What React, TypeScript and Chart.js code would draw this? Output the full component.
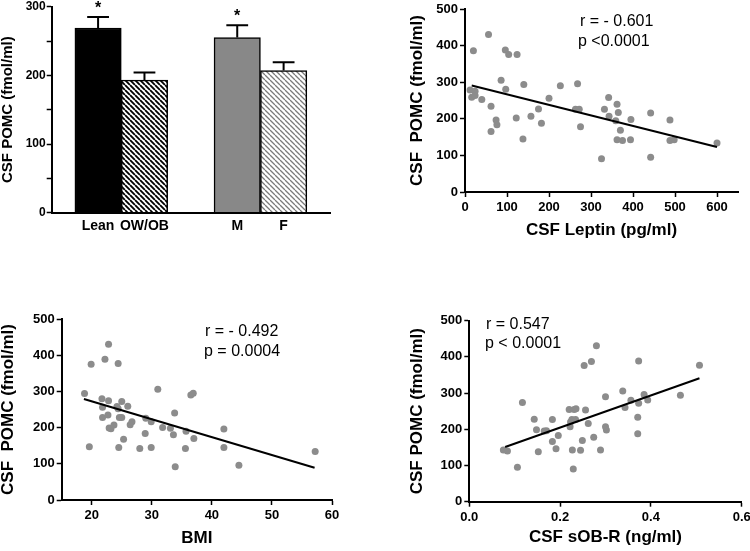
import React, { useEffect, useRef } from 'react';
import { Chart, registerables } from 'chart.js';

Chart.register(...registerables);

const FONT = '"Liberation Sans", Arial, Helvetica, sans-serif';
Chart.defaults.font.family = FONT;
Chart.defaults.color = '#000';

// ---------- Panel A: bar chart ----------
const barLabels = ['Lean', 'OW/OB', 'M', 'F'];
const barPositions = [1, 2, 4, 5];
const barMeans = [269, 193, 255, 207];
const barErrors = [16, 11, 18, 12];
const barMarks = ['*', '', '*', ''];
const barYTicks = [0, 50, 100, 150, 200, 250, 300];

// ---------- Panel B: CSF leptin ----------
const leptinX = [56, 20, 96, 104, 124, 86, 140, 97, 12, 24, 16, 24, 40, 62, 74, 76, 62, 122, 157, 138, 175, 182, 200, 227, 268, 263, 272, 275, 325, 332, 342, 343, 362, 359, 365, 370, 362, 375, 395, 394, 442, 442, 488, 488, 498, 600];
const leptinPomc = [430, 386, 388, 376, 376, 305, 294, 281, 279, 275, 259, 264, 253, 234, 197, 184, 165, 202, 207, 145, 227, 188, 256, 290, 296, 226, 226, 178, 91, 226, 258, 207, 240, 195, 217, 169, 143, 141, 198, 143, 216, 95, 197, 141, 143, 134];
const leptinFitX = [16, 600];
const leptinFitY = [291, 123];
const leptinXTicks = [0, 100, 200, 300, 400, 500, 600];
const leptinYTicks = [0, 50, 100, 150, 200, 250, 300, 350, 400, 450, 500];
const leptinStats = ['r = - 0.601', 'p <0.0001'];

// ---------- Panel C: BMI ----------
const bmiX = [18.8, 19.6, 19.9, 22.8, 22.2, 24.4, 21.7, 21.8, 22.8, 21.8, 22.7, 22.9, 23.2, 23.7, 24.2, 24.4, 24.6, 25.0, 25.0, 26.0, 26.4, 26.7, 25.3, 24.5, 28.0, 29.0, 28.9, 29.9, 29.9, 31.0, 31.8, 33.1, 33.6, 33.8, 35.7, 35.6, 33.9, 37.0, 36.5, 36.9, 42.0, 42.0, 44.5, 57.2];
const bmiPomc = [294, 147, 375, 430, 389, 377, 280, 256, 274, 228, 235, 199, 197, 207, 258, 252, 228, 272, 228, 259, 208, 216, 168, 145, 142, 226, 184, 145, 216, 306, 200, 198, 180, 240, 190, 142, 92, 170, 290, 295, 196, 145, 96, 134];
const bmiFitX = [18.7, 57.1];
const bmiFitY = [279, 89];
const bmiXTicks = [20, 30, 40, 50, 60];
const bmiYTicks = [0, 100, 200, 300, 400, 500];
const bmiStats = ['r = - 0.492', 'p = 0.0004'];

// ---------- Panel D: CSF sOB-R ----------
const sobrX = [0.075, 0.084, 0.106, 0.117, 0.143, 0.148, 0.152, 0.165, 0.170, 0.183, 0.183, 0.191, 0.196, 0.220, 0.222, 0.223, 0.226, 0.227, 0.229, 0.231, 0.234, 0.235, 0.245, 0.249, 0.253, 0.256, 0.262, 0.269, 0.274, 0.280, 0.289, 0.300, 0.300, 0.302, 0.338, 0.343, 0.356, 0.371, 0.371, 0.373, 0.373, 0.385, 0.393, 0.465, 0.507];
const sobrPomc = [143, 140, 95, 274, 228, 199, 138, 195, 196, 227, 166, 146, 183, 255, 207, 220, 227, 143, 90, 255, 227, 257, 142, 169, 376, 253, 216, 387, 178, 431, 143, 290, 207, 198, 306, 260, 280, 233, 188, 272, 389, 296, 281, 294, 377];
const sobrFitX = [0.079, 0.507];
const sobrFitY = [151, 341];
const sobrXTicks = [0, 0.2, 0.4, 0.6];
const sobrYTicks = [0, 100, 200, 300, 400, 500];
const sobrStats = ['r = 0.547', 'p < 0.0001'];

// ---------- helpers ----------
const notesPlugin = {
  id: 'notes',
  afterDraw(chart: any, _args: any, opts: any) {
    if (!opts || !opts.items) return;
    const ctx = chart.ctx;
    ctx.save();
    ctx.fillStyle = '#000';
    ctx.font = `${opts.size || 16}px ${FONT}`;
    ctx.textAlign = 'left';
    ctx.textBaseline = 'middle';
    opts.items.forEach((it: any) => ctx.fillText(it.text, it.x, it.y));
    ctx.restore();
  },
};

const errorBarPlugin = {
  id: 'errorBars',
  afterDatasetsDraw(chart: any, _args: any, opts: any) {
    if (!opts || !opts.errors) return;
    const meta = chart.getDatasetMeta(0);
    const yScale = chart.scales.y;
    const ctx = chart.ctx;
    ctx.save();
    ctx.strokeStyle = '#000';
    ctx.lineWidth = 2;
    meta.data.forEach((bar: any, i: number) => {
      const top = yScale.getPixelForValue(opts.means[i] + opts.errors[i]);
      const half = (bar.width * 0.47) / 2;
      ctx.beginPath();
      ctx.moveTo(bar.x, bar.y);
      ctx.lineTo(bar.x, top);
      ctx.moveTo(bar.x - half, top);
      ctx.lineTo(bar.x + half, top);
      ctx.stroke();
      if (opts.marks[i]) {
        ctx.fillStyle = '#000';
        ctx.font = `bold 16px ${FONT}`;
        ctx.textAlign = 'center';
        ctx.textBaseline = 'alphabetic';
        ctx.fillText(opts.marks[i], bar.x, top - 4);
      }
    });
    ctx.restore();
  },
};

function makeHatch(color: string, size: number, lw: number) {
  const c = document.createElement('canvas');
  c.width = size;
  c.height = size;
  const g = c.getContext('2d')!;
  g.fillStyle = '#fff';
  g.fillRect(0, 0, size, size);
  g.strokeStyle = color;
  g.lineWidth = lw;
  g.beginPath();
  for (const o of [-size, 0, size]) {
    g.moveTo(o, 0);
    g.lineTo(o + size, size);
  }
  g.stroke();
  return g.createPattern(c, 'repeat')!;
}

function fixedTicks(values: number[]) {
  return (s: any) => {
    s.ticks = values.map((v) => ({ value: v }));
  };
}

function yAxisWidth(w: number) {
  return (s: any) => {
    s.width = w;
    s.paddingTop = 0;
    s.paddingBottom = 0;
  };
}
function xAxisHeight(h: number) {
  return (s: any) => {
    s.height = h;
    s.paddingLeft = 0;
    s.paddingRight = 0;
  };
}

function barConfig(): any {
  const colors = ['#000000', makeHatch('#000000', 5, 1.8), '#888888', makeHatch('#7a7a7a', 5, 1.3)];
  return {
    type: 'bar',
    data: {
      datasets: [
        {
          data: barPositions.map((x, i) => ({ x, y: barMeans[i] })),
          backgroundColor: colors,
          borderColor: '#000',
          borderWidth: 1.5,
          barPercentage: 1,
          categoryPercentage: 1,
        },
      ],
    },
    plugins: [errorBarPlugin],
    options: {
      animation: false,
      responsive: false,
      devicePixelRatio: 1,
      events: [],
      layout: { padding: { left: 0.5, top: 6.7, right: 40, bottom: 57.3 } },
      plugins: {
        legend: { display: false },
        tooltip: { enabled: false },
        errorBars: { means: barMeans, errors: barErrors, marks: barMarks },
      },
      scales: {
        x: {
          type: 'linear',
          min: 0,
          max: 6,
          offset: false,
          afterBuildTicks: fixedTicks(barPositions),
          afterFit: xAxisHeight(30),
          ticks: {
            callback: (_v: any, i: number) => barLabels[i],
            font: { size: 14, weight: 'bold' },
            color: '#000',
            padding: 5,
            autoSkip: false,
            maxRotation: 0,
          },
          grid: { display: true, offset: false, drawOnChartArea: false, drawTicks: false },
          border: { display: true, color: '#000', width: 2, z: 1 },
        },
        y: {
          min: 0,
          max: 300,
          afterBuildTicks: fixedTicks(barYTicks),
          afterFit: yAxisWidth(51.2),
          ticks: {
            callback: (v: number) => (v % 100 === 0 ? String(v) : ''),
            font: { size: 12, weight: 'bold' },
            color: '#000',
            padding: 1,
          },
          grid: { display: true, drawOnChartArea: false, color: '#000', tickLength: 5, tickWidth: 1.5 },
          border: { display: true, color: '#000', width: 2 },
          title: {
            display: true,
            text: 'CSF POMC (fmol/ml)',
            font: { size: 15, weight: 'bold', lineHeight: 1 },
            color: '#000',
            padding: 0,
          },
        },
      },
    },
  };
}

interface ScatterSpec {
  xs: number[];
  ys: number[];
  fitX: number[];
  fitY: number[];
  xMin: number;
  xMax: number;
  xTicks: number[];
  yTicks: number[];
  xFmt: (v: number) => string;
  yFmt: (v: number) => string;
  xTitle: string;
  yTitle: string;
  pad: { left: number; top: number; right: number; bottom: number };
  yw: number;
  xh: number;
  notes: { text: string; x: number; y: number }[];
}

function scatterConfig(p: ScatterSpec): any {
  const tickFont = { size: 13, weight: 'bold' };
  const titleFont = { size: 17, weight: 'bold', lineHeight: 1 };
  return {
    type: 'scatter',
    data: {
      datasets: [
        {
          type: 'line',
          data: p.fitX.map((x, i) => ({ x, y: p.fitY[i] })),
          borderColor: '#000',
          borderWidth: 2,
          pointRadius: 0,
          fill: false,
          order: 0,
        },
        {
          data: p.xs.map((x, i) => ({ x, y: p.ys[i] })),
          backgroundColor: '#8c8c8c',
          borderWidth: 0,
          pointRadius: 3.5,
          order: 1,
        },
      ],
    },
    plugins: [notesPlugin],
    options: {
      animation: false,
      responsive: false,
      devicePixelRatio: 1,
      events: [],
      layout: { padding: p.pad },
      plugins: {
        legend: { display: false },
        tooltip: { enabled: false },
        notes: { items: p.notes, size: 16 },
      },
      scales: {
        x: {
          type: 'linear',
          min: p.xMin,
          max: p.xMax,
          afterBuildTicks: fixedTicks(p.xTicks),
          afterFit: xAxisHeight(p.xh),
          ticks: { callback: p.xFmt, font: tickFont, color: '#000', padding: 3, autoSkip: false, maxRotation: 0 },
          grid: { display: true, drawOnChartArea: false, color: '#000', tickLength: 5, tickWidth: 1.5 },
          border: { display: true, color: '#000', width: 2 },
          title: { display: true, text: p.xTitle, font: titleFont, color: '#000', padding: 0 },
        },
        y: {
          type: 'linear',
          min: 0,
          max: 500,
          afterBuildTicks: fixedTicks(p.yTicks),
          afterFit: yAxisWidth(p.yw),
          ticks: { callback: p.yFmt, font: tickFont, color: '#000', padding: 2 },
          grid: { display: true, drawOnChartArea: false, color: '#000', tickLength: 5, tickWidth: 1.5 },
          border: { display: true, color: '#000', width: 2 },
          title: { display: true, text: p.yTitle, font: titleFont, color: '#000', padding: 0 },
        },
      },
    },
  };
}

const hundreds = (v: number) => (v % 100 === 0 ? String(v) : '');

function ChartCanvas(props: { left: number; top: number; width: number; height: number; make: () => any }) {
  const ref = useRef<HTMLCanvasElement>(null);
  useEffect(() => {
    const chart = new Chart(ref.current!, props.make());
    return () => chart.destroy();
  }, []);
  return (
    <canvas
      ref={ref}
      width={props.width}
      height={props.height}
      style={{ position: 'absolute', left: props.left, top: props.top, width: props.width, height: props.height }}
    />
  );
}

export default function App() {
  return (
    <div style={{ position: 'fixed', left: 0, top: 0, width: 750, height: 551, background: '#fff', overflow: 'hidden' }}>
      <ChartCanvas left={0} top={0} width={370} height={300} make={barConfig} />
      <ChartCanvas
        left={370}
        top={0}
        width={380}
        height={300}
        make={() =>
          scatterConfig({
            xs: leptinX,
            ys: leptinPomc,
            fitX: leptinFitX,
            fitY: leptinFitY,
            xMin: 0,
            xMax: 650,
            xTicks: leptinXTicks,
            yTicks: leptinYTicks,
            xFmt: (v) => String(v),
            yFmt: hundreds,
            xTitle: 'CSF Leptin (pg/ml)',
            yTitle: 'CSF  POMC (fmol/ml)',
            pad: { left: 38.5, top: 9, right: 12, bottom: 61.5 },
            yw: 56.5,
            xh: 46.5,
            notes: [
              { text: leptinStats[0], x: 210, y: 22 },
              { text: leptinStats[1], x: 208, y: 42 },
            ],
          })
        }
      />
      <ChartCanvas
        left={0}
        top={300}
        width={370}
        height={251}
        make={() =>
          scatterConfig({
            xs: bmiX,
            ys: bmiPomc,
            fitX: bmiFitX,
            fitY: bmiFitY,
            xMin: 15,
            xMax: 60,
            xTicks: bmiXTicks,
            yTicks: bmiYTicks,
            xFmt: (v) => String(v),
            yFmt: (v) => String(v),
            xTitle: 'BMI',
            yTitle: 'CSF  POMC (fmol/ml)',
            pad: { left: 0, top: 19, right: 38, bottom: 4 },
            yw: 61.7,
            xh: 47,
            notes: [
              { text: bmiStats[0], x: 205, y: 32 },
              { text: bmiStats[1], x: 204, y: 52 },
            ],
          })
        }
      />
      <ChartCanvas
        left={370}
        top={300}
        width={380}
        height={251}
        make={() =>
          scatterConfig({
            xs: sobrX,
            ys: sobrPomc,
            fitX: sobrFitX,
            fitY: sobrFitY,
            xMin: 0,
            xMax: 0.6,
            xTicks: sobrXTicks,
            yTicks: sobrYTicks,
            xFmt: (v) => v.toFixed(1),
            yFmt: (v) => String(v),
            xTitle: 'CSF sOB-R (ng/ml)',
            yTitle: 'CSF POMC (fmol/ml)',
            pad: { left: 38.5, top: 20.7, right: 8.3, bottom: 5.5 },
            yw: 60.8,
            xh: 43.8,
            notes: [
              { text: sobrStats[0], x: 116, y: 25 },
              { text: sobrStats[1], x: 115, y: 44 },
            ],
          })
        }
      />
    </div>
  );
}
